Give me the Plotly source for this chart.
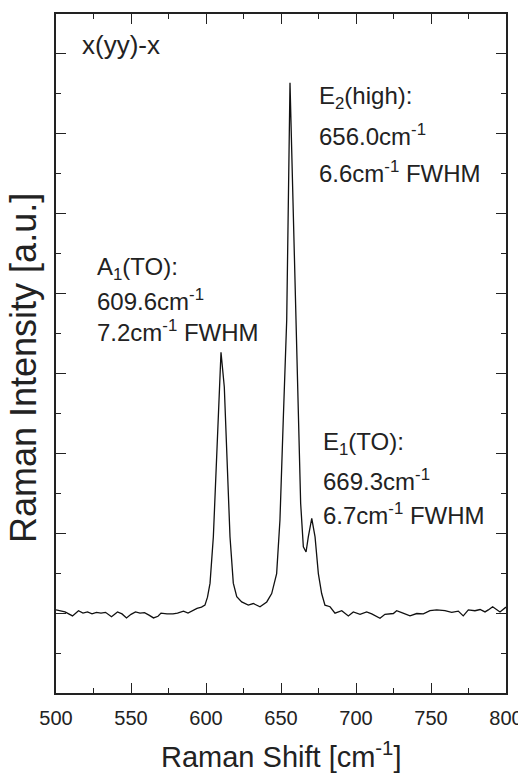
import plotly.graph_objects as go

# Raman shift (cm^-1) and intensity (a.u.)
raman_shift = [500, 503, 506, 511, 515, 518, 521, 524, 527, 530, 533, 537, 541, 544, 547,
               550, 553, 556, 559, 562, 565, 568, 570, 574, 578, 581, 585, 588, 591, 594,
               597, 599.3, 601, 602.7, 604.9, 607.1, 608.9, 610.0, 612.2, 613.8, 616.0, 618.2,
               620.5, 623.8, 628.2, 631.5, 636.0, 640.5, 643.8, 647.1, 649.3, 651.5, 653.8,
               656.0, 660.0, 661.5, 663.1, 664.9, 666.7, 668.2, 670.5, 672.7, 674.9, 677.1,
               679.3, 682.7, 686.0, 690.5, 694.9, 698.2, 702.7, 707.1, 710.5, 716.0, 719.3,
               724.9, 727.1, 730.5, 736.0, 740.5, 744.9, 749.3, 753.8, 759.3, 763.8, 768.2,
               771.5, 774.9, 779.3, 782.7, 786.0, 788.2, 791.1, 796.0, 798.2, 800.0]
intensity = [2.08, 2.05, 2.03, 1.93, 2.06, 2.00, 2.03, 1.98, 2.02, 2.00, 2.02, 1.91, 2.03, 1.98, 1.88,
             1.97, 2.03, 2.00, 2.01, 1.95, 1.88, 1.92, 2.00, 1.98, 1.98, 2.00, 2.05, 2.00, 2.06, 2.12,
             2.15, 2.20, 2.40, 2.75, 3.91, 6.00, 7.66, 8.53, 7.66, 6.00, 3.91, 2.75,
             2.41, 2.28, 2.20, 2.24, 2.16, 2.28, 2.49, 2.99, 4.33, 6.83, 9.33,
             15.28, 9.33, 6.83, 4.75, 3.66, 3.53, 3.91, 4.37, 3.91, 2.99, 2.49,
             2.20, 2.16, 2.00, 2.06, 1.93, 2.03, 1.97, 2.03, 1.98, 1.87, 1.97,
             1.99, 2.06, 2.01, 1.93, 1.99, 1.98, 2.06, 2.08, 2.06, 2.02, 2.05,
             1.93, 2.08, 2.06, 2.09, 2.03, 2.08, 2.16, 2.03, 2.10, 2.15]

x_ticks = [500, 550, 600, 650, 700, 750, 800]
x_tick_labels = ["500", "550", "600", "650", "700", "750", "800"]

FONT = "Liberation Sans, Arial, sans-serif"
TXT = "#222222"

fig = go.Figure()
fig.add_trace(go.Scatter(x=raman_shift, y=intensity, mode="lines",
                         line=dict(color="#111111", width=1.3), showlegend=False))

axis_common = dict(showline=True, linecolor="#222222", linewidth=1.5, mirror="ticks",
                   ticks="inside", tickcolor="#222222", tickwidth=1.3, ticklen=10,
                   showgrid=False, zeroline=False, automargin=False)

fig.update_xaxes(range=[500, 800], tickmode="array", tickvals=x_ticks, ticktext=x_tick_labels,
                 minor=dict(ticks="inside", ticklen=5, dtick=25, tick0=0, tickcolor="#222222", showgrid=False),
                 tickfont=dict(family=FONT, size=20, color=TXT), ticklabelstandoff=6,
                 **axis_common)
fig.update_yaxes(range=[0, 17], dtick=2, tick0=0, showticklabels=False,
                 minor=dict(ticks="inside", ticklen=5, dtick=1, tick0=0, tickcolor="#222222", showgrid=False),
                 **axis_common)

def px2paper(px, py):
    # reference-picture pixel -> paper fraction of the plot area
    return (px - 56) / 450.0, (693 - py) / 679.0

labels = [
    (80, 45, "x(yy)-x", 26),
    (317, 97, "E<sub>2</sub>(high):", 24),
    (317, 135, "656.0cm<sup>-1</sup>", 24),
    (317, 172, "6.6cm<sup>-1</sup> FWHM", 24),
    (95, 268, "A<sub>1</sub>(TO):", 24),
    (95, 300, "609.6cm<sup>-1</sup>", 24),
    (95, 331, "7.2cm<sup>-1</sup> FWHM", 24),
    (321, 443, "E<sub>1</sub>(TO):", 24),
    (321, 480, "669.3cm<sup>-1</sup>", 24),
    (321, 514, "6.7cm<sup>-1</sup> FWHM", 24),
]
for px, py, t, s in labels:
    ax, ay = px2paper(px, py)
    fig.add_annotation(x=ax, y=ay, xref="paper", yref="paper", text=t, showarrow=False,
                       xanchor="left", yanchor="middle",
                       font=dict(family=FONT, size=s, color=TXT))

# axis titles
tx, ty = px2paper(281, 755)
fig.add_annotation(x=tx, y=ty, xref="paper", yref="paper", text="Raman Shift [cm<sup>-1</sup>]",
                   showarrow=False, xanchor="center", yanchor="middle",
                   font=dict(family=FONT, size=29, color=TXT))
tx, ty = px2paper(24, 368)
fig.add_annotation(x=tx, y=ty, xref="paper", yref="paper", text="Raman Intensity [a.u.]",
                   showarrow=False, xanchor="center", yanchor="middle", textangle=-90,
                   font=dict(family=FONT, size=36, color=TXT))

# page body has an 8px margin: shrink figure so the plot lands where the reference has it
fig.update_layout(width=518, height=765, margin=dict(l=48, r=20, t=6, b=80),
                  plot_bgcolor="white", paper_bgcolor="white")

fig.write_html("out.html")
